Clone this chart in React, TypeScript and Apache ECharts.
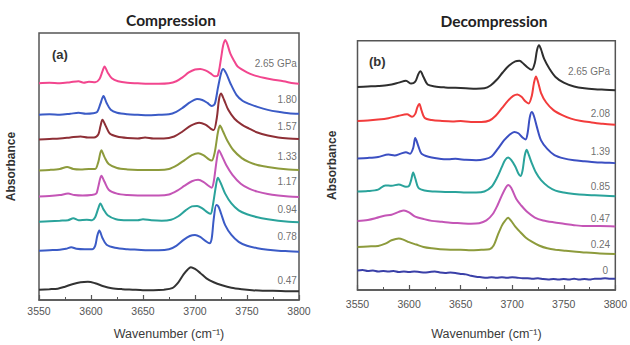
import React, { useEffect, useRef } from "react";
import * as echarts from "echarts";

// Wavenumber axis ticks
const xMin = 3550;
const xMax = 3800;
const xStep = 50;

// Compression spectra (a): [wavenumber, offset absorbance]
const aP265 = [[3550,220],[3560,220.5],[3570,220],[3580,221],[3588,222],[3593,220.5],[3598,221.5],[3604,221],[3608,224],[3611,232],[3613,237],[3616,231],[3620,225],[3626,222],[3635,220.5],[3645,220],[3655,219.5],[3665,219.5],[3675,220],[3682,222],[3688,226],[3694,231],[3700,234],[3705,234.5],[3710,233],[3715,230],[3719,227],[3722,228],[3725,245],[3727,258],[3729,264],[3731,260],[3734,250],[3738,242],[3741,237],[3750,231],[3757,228],[3766,225.5],[3773,224],[3785,222],[3795,220],[3800,219.5]];
const aP180 = [[3550,188],[3560,188.5],[3570,188],[3580,189],[3588,190],[3595,189],[3602,189.5],[3606,191],[3609,199],[3612,207],[3615,200],[3619,193],[3625,190],[3635,188.5],[3645,188],[3655,187.5],[3665,188],[3675,188.5],[3682,191],[3688,195],[3695,200.5],[3702,204],[3707,203],[3712,200],[3716,197],[3719,199],[3722,215],[3725,230],[3727,234.5],[3730,230],[3734,220],[3740,208],[3746,202],[3752,199],[3760,196],[3770,193],[3780,191],[3790,189.5],[3800,189]];
const aP157 = [[3550,163],[3560,163.5],[3570,164],[3580,165],[3590,166],[3597,165],[3603,165],[3607,168],[3609,176],[3611,183],[3614,177],[3618,169],[3625,166],[3635,164.5],[3645,164],[3652,165],[3660,164],[3670,164],[3680,166],[3688,171],[3696,177],[3704,180],[3710,178],[3715,174],[3718,172.5],[3721,185],[3723,203],[3725,209.5],[3728,203],[3732,193],[3738,184],[3745,178],[3752,174],[3760,170],[3770,167],[3780,165],[3790,164],[3800,163.5]];
const aP133 = [[3550,131.5],[3560,132],[3570,133],[3577,135],[3583,133],[3590,132.5],[3598,133],[3604,133],[3607,140],[3610,152],[3613,145],[3617,138],[3625,134],[3635,132.5],[3645,132],[3655,132],[3665,132],[3675,133],[3683,137],[3690,142],[3697,147],[3703,149],[3708,147],[3713,143],[3716,141.5],[3719,150],[3722,170],[3724,177],[3727,171],[3731,162],[3737,152],[3745,144],[3752,140],[3760,137],[3770,135],[3780,133.5],[3790,132.5],[3800,132]];
const aP117 = [[3550,105],[3560,105.5],[3570,106.5],[3578,108],[3584,106.5],[3592,106],[3600,106.5],[3605,108],[3607,115],[3610,126],[3613,120],[3617,112],[3625,108],[3635,106.5],[3645,106],[3655,106],[3665,106],[3675,107],[3683,111],[3690,116],[3697,120.5],[3703,122],[3708,120],[3713,116],[3716,114],[3718,120],[3721,143],[3723,152],[3726,146],[3730,137],[3736,127],[3744,118],[3752,113],[3760,110],[3770,107.5],[3780,106],[3790,105],[3800,104.5]];
const aP094 = [[3550,79.5],[3560,80],[3570,80.5],[3578,81],[3583,83],[3588,81],[3596,81.5],[3601,81],[3604,84],[3607,93],[3609,98],[3612,92],[3616,86],[3624,82],[3635,81],[3645,81],[3650,82],[3658,81],[3668,80.5],[3677,81.5],[3684,85],[3691,91],[3697,95],[3702,95.5],[3707,93],[3712,89],[3715,87.5],[3717,95],[3720,115],[3722,124],[3725,118],[3729,108],[3735,98],[3742,91],[3750,87],[3760,84],[3770,82],[3780,80.5],[3790,79.5],[3800,79]];
const aP078 = [[3550,50],[3560,50.5],[3570,51],[3576,52],[3581,53.5],[3586,52],[3594,51.5],[3601,51.5],[3604,55],[3606,65],[3608,70.5],[3611,63],[3615,56],[3623,53],[3635,51.5],[3645,51],[3655,50.5],[3665,50.5],[3675,51.5],[3682,55],[3689,61],[3695,65],[3700,66],[3705,64],[3710,60],[3714,57.5],[3716,62],[3718,82],[3720.5,96.5],[3722.5,95],[3725,88],[3729,76],[3735,66],[3742,59],[3750,55],[3760,52.5],[3770,51],[3780,50],[3790,49.5],[3800,49]];
const aP047 = [[3550,10.5],[3560,11],[3568,11.5],[3575,13.5],[3582,16],[3590,18],[3597,18.5],[3604,17],[3612,14],[3620,12],[3630,11],[3640,10.5],[3650,10],[3660,10],[3670,10.5],[3678,12],[3684,18],[3689,26],[3693,31],[3696,33.3],[3700,31.5],[3705,27.5],[3711,22],[3718,18],[3726,15],[3735,12.5],[3745,11],[3755,10],[3765,9.5],[3775,9.5],[3790,9],[3800,9]];

// Decompression spectra (b)
const bP265 = [[3550,214.5],[3560,215],[3570,215.5],[3580,216.5],[3590,219],[3597,221],[3602,218],[3606,220],[3609,228],[3611,231],[3614,225],[3618,217],[3625,215],[3635,214],[3645,213.5],[3655,213],[3665,212.5],[3673,213],[3679,216],[3685,222],[3691,230],[3697,237],[3703,241.5],[3707,242],[3711,239],[3715,235],[3719,232.5],[3722,240],[3724,253],[3726,258.5],[3728,254],[3731,244],[3736,234],[3742,225],[3750,219],[3760,215],[3770,213],[3780,212],[3790,211.5],[3800,211]];
const bP208 = [[3550,178.5],[3560,179],[3570,180],[3580,181.5],[3590,184],[3598,185.5],[3603,183],[3606,186],[3608,193],[3610,196.5],[3612,190],[3615,182],[3622,179.5],[3632,178.5],[3642,178],[3650,178.5],[3660,177.5],[3670,177.5],[3678,179],[3684,184],[3690,192],[3696,200],[3701,205],[3705,206.5],[3709,204],[3713,199],[3716,197],[3719,205],[3721,218],[3723,225.5],[3725,220],[3728,208],[3733,198],[3740,190],[3748,185],[3757,181],[3767,178.5],[3777,177],[3788,175.5],[3800,174.5]];
const bP139 = [[3550,139],[3560,139.5],[3570,140.5],[3580,143],[3586,142],[3592,144],[3597,145.5],[3601,144],[3604,150],[3606,160.5],[3609,152],[3612,144],[3618,141],[3628,139],[3638,138],[3645,138.5],[3655,137.5],[3665,137],[3673,138],[3680,141],[3686,149],[3692,158],[3698,164.5],[3702,167],[3706,165.5],[3710,161],[3713,159],[3715,166],[3717,182],[3719,188],[3721,184],[3724,172],[3728,158],[3734,149],[3741,142.5],[3750,139],[3760,137],[3770,136],[3780,135],[3790,134.5],[3800,134]];
const bP085 = [[3550,104],[3560,104.5],[3570,106],[3577,110.5],[3583,110],[3590,111.5],[3597,109],[3600,110],[3602,116],[3604,124],[3606,118],[3609,108],[3615,105],[3625,104],[3635,103.5],[3645,103.5],[3655,103],[3665,103],[3673,104],[3680,109],[3685,118],[3690,130],[3693,137],[3696,140],[3699,137.5],[3703,130.5],[3706,123],[3708,120.5],[3710,126],[3712,141],[3714,148],[3716,143],[3719,134],[3723,124],[3728,116],[3735,109],[3742,105],[3750,103],[3760,101.5],[3770,100.5],[3780,100],[3790,99.5],[3800,99]];
const bP047 = [[3550,73],[3560,74],[3568,76],[3576,78.5],[3583,79.5],[3590,82.5],[3595,84],[3600,82],[3606,77.5],[3614,75],[3622,73],[3632,72],[3640,71],[3650,70.5],[3660,70],[3668,70.5],[3675,73.5],[3681,80],[3686,90],[3690,100],[3694,108.5],[3696,111],[3699,108],[3704,96],[3709,89],[3715,82],[3722,76.5],[3730,73.5],[3740,71.5],[3750,70],[3760,68.5],[3770,67.5],[3785,67.5],[3800,67]];
const bP024 = [[3550,45.5],[3560,46],[3570,46.5],[3577,49],[3583,52.5],[3590,54.5],[3595,53],[3600,50.5],[3607,48],[3614,45.5],[3622,44],[3630,43],[3640,42.5],[3650,42.5],[3660,42],[3670,42.5],[3678,43],[3682,47],[3686,58],[3690,68],[3693,73],[3696,76.3],[3699,73],[3703,67],[3708,61],[3713,55.5],[3719,51],[3726,47],[3734,44],[3742,42.5],[3752,41.5],[3762,40.5],[3772,39.5],[3785,38.5],[3800,38]];
const bP000 = [[3550,20.5],[3555,21],[3560,20],[3565,20.5],[3570,19.5],[3575,20],[3580,19.5],[3585,20],[3590,19],[3595,19.5],[3600,19],[3605,19.5],[3610,19],[3615,18.5],[3620,19],[3625,19.5],[3630,18.5],[3635,18],[3640,18.5],[3645,18],[3650,17],[3655,16.5],[3660,15],[3665,14],[3670,13.5],[3675,13],[3680,13.5],[3685,13],[3690,13.5],[3695,13],[3700,13.5],[3705,13],[3710,12.5],[3715,12.5],[3720,12],[3725,12.5],[3730,11.5],[3735,11],[3740,11.5],[3745,11],[3750,11.5],[3755,11],[3760,12],[3765,11],[3770,11.5],[3775,11],[3780,12],[3785,12],[3790,12.5],[3795,12],[3800,12]];

// Pressure labels and where they sit
const aLabels = ["2.65 GPa", "1.80", "1.57", "1.33", "1.17", "0.94", "0.78", "0.47"];
const aLabelY = [240, 204, 176, 146, 120, 92, 64, 20];
const bLabels = ["2.65 GPa", "2.08", "1.39", "0.85", "0.47", "0.24", "0"];
const bLabelY = [231, 186, 146, 109, 76, 48, 21];

const aSeries = [aP265, aP180, aP157, aP133, aP117, aP094, aP078, aP047];
const aColors = ["#f2468e", "#3b5bc6", "#8e2f36", "#8d9b3c", "#c455b6", "#2aa39b", "#3b5bc6", "#333333"];
const bSeries = [bP265, bP208, bP139, bP085, bP047, bP024, bP000];
const bColors = ["#2e2e2e", "#f23c3c", "#3b4fc2", "#2aa39b", "#c455b6", "#8d9b3c", "#3a40a8"];

const FONT = "Liberation Sans, Arial, sans-serif";

export default function App() {
  const ref = useRef<HTMLDivElement>(null);
  useEffect(() => {
    if (!ref.current) return;
    const chart = echarts.init(ref.current, null, { renderer: "svg" });
    const xAxisBase = (idx: number, labelMargin: number, nameGap: number) => ({
      type: "value",
      gridIndex: idx,
      min: xMin,
      max: xMax,
      interval: xStep,
      name: "Wavenumber (cm⁻¹)",
      nameLocation: "middle",
      nameGap,
      nameTextStyle: { fontFamily: FONT, fontSize: 12.5, color: "#3a3a3a" },
      axisLine: { show: true, lineStyle: { color: "#555", width: 1.5 } },
      axisTick: { show: true, inside: true, length: 5, lineStyle: { color: "#555", width: 1.2 } },
      minorTick: { show: true, splitNumber: 2, length: 3, lineStyle: { color: "#555", width: 1 } },
      splitLine: { show: false },
      minorSplitLine: { show: false },
      axisLabel: { fontFamily: FONT, fontSize: 10.5, color: "#555", margin: labelMargin, formatter: (v: number) => String(v) },
    });
    const yAxisBase = (idx: number, max: number, nameGap: number) => ({
      type: "value",
      gridIndex: idx,
      min: 0,
      max,
      name: "Absorbance",
      nameLocation: "middle",
      nameRotate: 90,
      nameGap,
      nameTextStyle: { fontFamily: FONT, fontSize: 12, fontWeight: "bold", color: "#333" },
      axisLine: { show: false },
      axisTick: { show: false },
      axisLabel: { show: false },
      splitLine: { show: false },
    });
    const lineSeries: any[] = [];
    aSeries.forEach((d, i) =>
      lineSeries.push({
        type: "line", xAxisIndex: 0, yAxisIndex: 0, data: d, showSymbol: false, smooth: 0.3,
        lineStyle: { color: aColors[i], width: 2 }, z: 3,
      })
    );
    bSeries.forEach((d, i) =>
      lineSeries.push({
        type: "line", xAxisIndex: 1, yAxisIndex: 1, data: d, showSymbol: false, smooth: 0.3,
        lineStyle: { color: bColors[i], width: 2 }, z: 3,
      })
    );
    const labelSeries = (idx: number, names: string[], ys: number[], xs: number[]) => ({
      type: "scatter",
      xAxisIndex: idx,
      yAxisIndex: idx,
      symbolSize: 0,
      silent: true,
      data: names.map((n, i) => ({ value: [xs[i], ys[i]], name: n })),
      label: {
        show: true,
        position: "left",
        distance: 0,
        formatter: (p: any) => p.name,
        fontFamily: FONT,
        fontSize: 10,
        color: "#4a4a4a",
      },
      z: 5,
    });
    chart.setOption({
      animation: false,
      backgroundColor: "#ffffff",
      title: [
        { text: "Compression", left: 166, top: 7, textAlign: "center",
          textStyle: { fontFamily: "Lato, " + FONT, fontSize: 15.5, fontWeight: "bold", color: "#222" } },
        { text: "Decompression", left: 489, top: 8, textAlign: "center",
          textStyle: { fontFamily: "Lato, " + FONT, fontSize: 15.5, fontWeight: "bold", color: "#222" } },
      ],
      grid: [
        { left: 39, top: 33, width: 260, height: 271, show: true, borderColor: "#555", borderWidth: 1.5, backgroundColor: "transparent" },
        { left: 357.5, top: 40.7, width: 259.5, height: 263.3, show: true, borderColor: "#555", borderWidth: 1.5, backgroundColor: "transparent" },
      ],
      xAxis: [xAxisBase(0, 5, 27), xAxisBase(1, 8, 37)],
      yAxis: [yAxisBase(0, 271, 22), yAxisBase(1, 263.3, 20)],
      graphic: [
        { type: "text", left: 52, top: 48, style: { text: "(a)", font: "bold 13px " + FONT, fill: "#333" } },
        { type: "text", left: 369, top: 55, style: { text: "(b)", font: "bold 13px " + FONT, fill: "#333" } },
      ],
      series: [
        ...lineSeries,
        labelSeries(0, aLabels, aLabelY, aLabels.map(() => 3798)),
        labelSeries(1, bLabels, bLabelY, bLabels.map((n) => (n === "0" ? 3793 : 3795))),
      ],
    });
    return () => chart.dispose();
  }, []);
  return (
    <div style={{ position: "fixed", left: 0, top: 0, width: 630, height: 345, background: "#fff" }}>
      <div ref={ref} style={{ width: 630, height: 345 }} />
    </div>
  );
}
